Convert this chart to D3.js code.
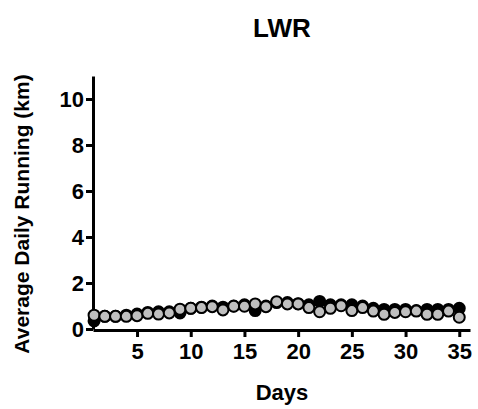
<!DOCTYPE html>
<html>
<head>
<meta charset="utf-8">
<script src="https://cdn.jsdelivr.net/npm/d3@7"></script>
<style>
  body { margin: 0; background: #fff; }
  text { font-family: "Liberation Sans", Arial, sans-serif; font-weight: bold; }
</style>
</head>
<body>
<svg id="chart"></svg>
<script>
const days = d3.range(1, 36);
// black series (drawn underneath)
const blackVals = [0.35, 0.55, 0.55, 0.6, 0.65, 0.72, 0.75, 0.75, 0.7, 0.9,
  0.95, 1.0, 0.95, 1.0, 1.05, 0.8, 1.0, 1.15, 1.15, 1.1,
  1.05, 1.2, 1.05, 1.05, 1.05, 1.0, 0.9, 0.85, 0.85, 0.85,
  0.8, 0.85, 0.85, 0.85, 0.9];
// grey series (drawn on top)
const greyVals = [0.6, 0.55, 0.55, 0.55, 0.58, 0.68, 0.65, 0.7, 0.86, 0.9,
  0.93, 0.97, 0.83, 0.99, 0.99, 1.09, 0.97, 1.19, 1.09, 1.09,
  0.93, 0.75, 0.9, 1.01, 0.8, 0.93, 0.78, 0.64, 0.72, 0.75,
  0.78, 0.64, 0.64, 0.78, 0.51];
const yTicks = [0, 2, 4, 6, 8, 10];
const xTicks = [5, 10, 15, 20, 25, 30, 35];

const W = 478, H = 409;
const svg = d3.select('#chart').attr('width', W).attr('height', H);

const x = d3.scaleLinear().domain([0.9, 36]).range([93, 470]);
const y = d3.scaleLinear().domain([0, 11]).range([329, 76]);

const xAxis = d3.axisBottom(x).tickValues(xTicks).tickSize(7).tickSizeOuter(0).tickPadding(6);
const yAxis = d3.axisLeft(y).tickValues(yTicks).tickSize(7).tickSizeOuter(0).tickPadding(2);

const xg = svg.append('g').attr('transform', `translate(0,${y(0) + 1})`).call(xAxis);
const yg = svg.append('g').attr('transform', `translate(${x(0.9)},0)`).call(yAxis);

[xg, yg].forEach(g => {
  g.select('.domain').attr('stroke', '#000').attr('stroke-width', 3);
  g.selectAll('.tick line').attr('stroke', '#000').attr('stroke-width', 3);
  g.selectAll('.tick text').attr('fill', '#000').style('font-size', '22px')
    .style('font-family', '"Liberation Sans", Arial, sans-serif').style('font-weight', 'bold');
});

const pts = svg.append('g');
pts.selectAll('circle.blk').data(days).join('circle')
  .attr('class', 'blk')
  .attr('cx', d => x(d)).attr('cy', (d, i) => y(blackVals[i]))
  .attr('r', 5.5).attr('fill', '#000').attr('stroke', '#000').attr('stroke-width', 2);
pts.selectAll('circle.gry').data(days).join('circle')
  .attr('class', 'gry')
  .attr('cx', d => x(d)).attr('cy', (d, i) => y(greyVals[i]))
  .attr('r', 5.5).attr('fill', '#bfbfbf').attr('stroke', '#000').attr('stroke-width', 2);

svg.append('text').attr('x', 282).attr('y', 37).attr('text-anchor', 'middle')
  .style('font-size', '26px').text('LWR');
svg.append('text').attr('x', 282).attr('y', 400).attr('text-anchor', 'middle')
  .style('font-size', '22px').text('Days');
svg.append('text').attr('transform', 'translate(29,214) rotate(-90)')
  .attr('text-anchor', 'middle').style('font-size', '21px').text('Average Daily Running (km)');
</script>
</body>
</html>
